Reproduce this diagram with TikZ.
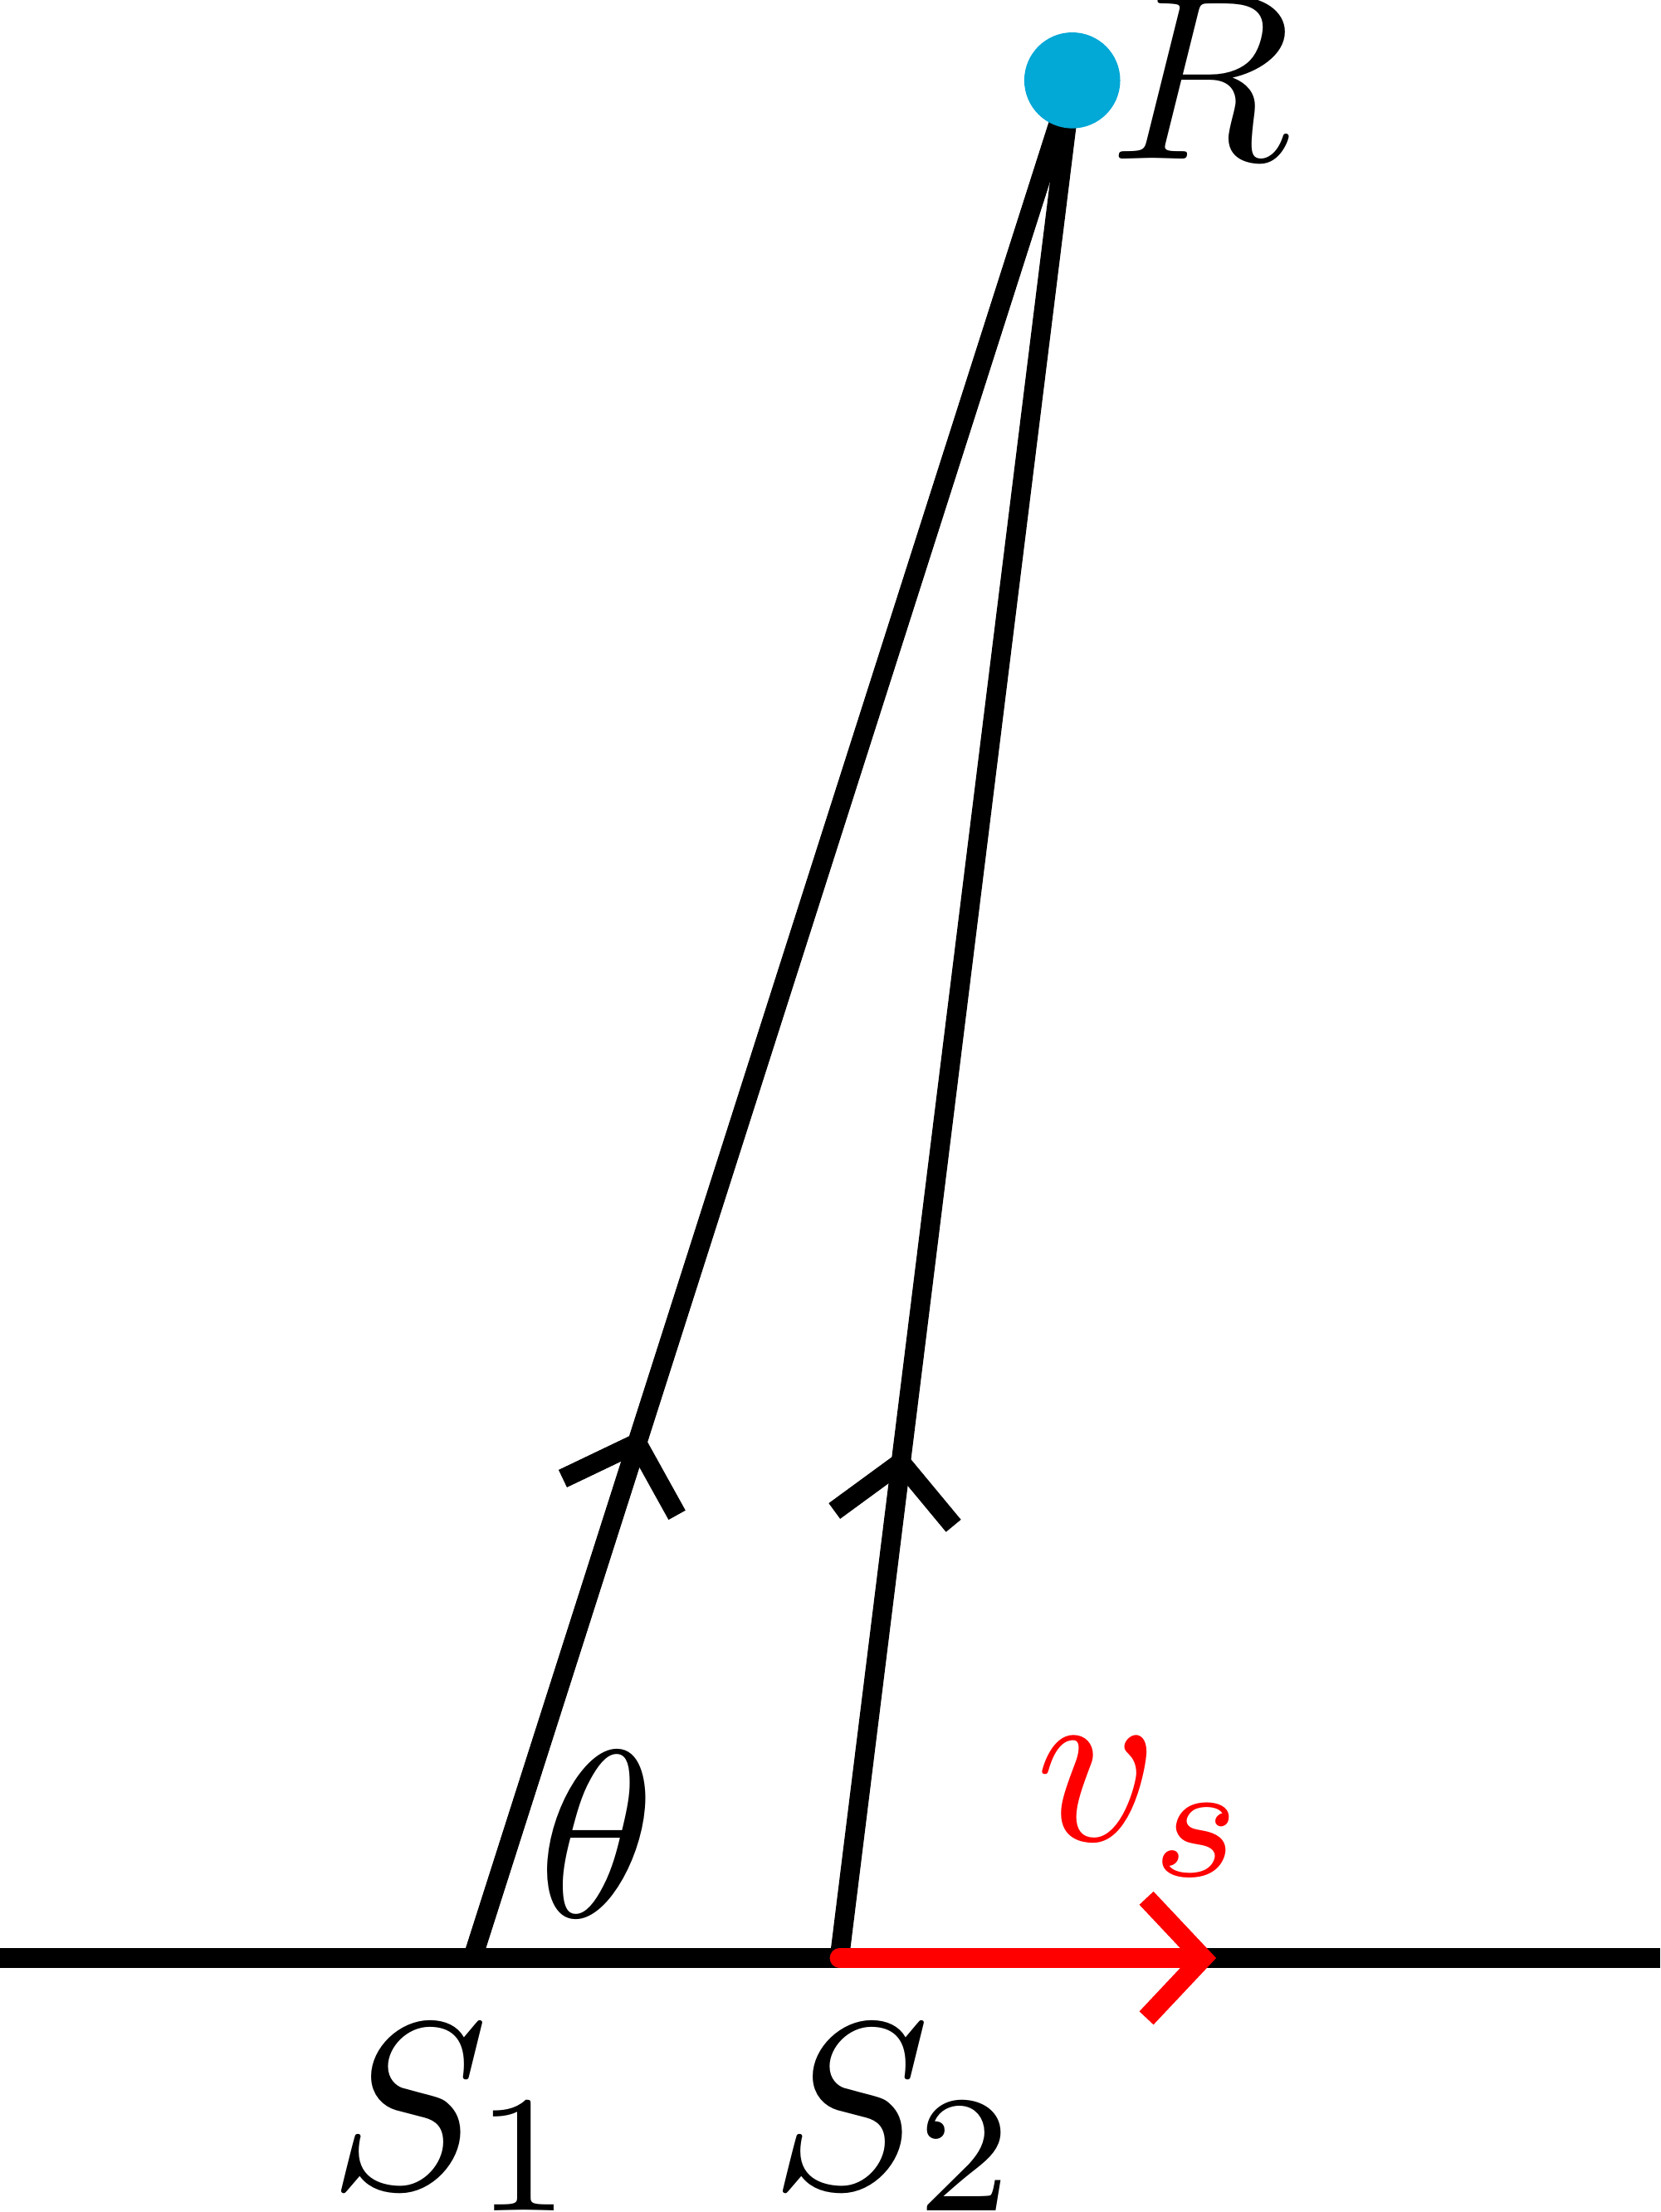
\documentclass[tikz,border=0pt]{standalone}
\usetikzlibrary{arrows.meta,decorations.markings}
\definecolor{dotcyan}{RGB}{2,168,214}
\tikzset{
 ray/.style={line width=0.137cm},
 barb/.tip={Straight Barb[length=0.4cm,width=0.85cm]},
 lbl/.style={scale=4.8,inner sep=0pt}
}
\begin{document}
\begin{tikzpicture}
\useasboundingbox (0,0) rectangle (11.77,15.68);
\coordinate (L) at (0,1.80);
\coordinate (E) at (11.77,1.80);
\coordinate (S1) at (3.35,1.80);
\coordinate (S2) at (5.95,1.80);
\coordinate (V) at (8.62,1.80);
\coordinate (R) at (7.60,15.11);
% ground line and the two rays
\draw[ray] (L) -- (E);
\foreach \s/\p in {S1/0.281,S2/0.271}
 \draw[ray,postaction=decorate,decoration={markings,mark=at position \p with {\arrow{barb}}}] (\s) -- (R);
\draw[ray,red,line cap=round,-barb] (S2) -- (V);
\node[circle,fill=dotcyan,minimum size=0.68cm,inner sep=0pt] (Rdot) at (R) {};
% labels
\node[lbl] (r) at (8.51,15.13) {$R$};
\node[lbl] (th) at (4.23,2.68) {$\theta$};
\node[lbl,anchor=base,red] (vs) at (8.11,2.63) {$v_s$};
\node[lbl,anchor=base] (s1) at (3.23,0.17) {$S_{\smash{\raisebox{0.55pt}{$\scriptstyle1$}}}$};
\node[lbl,anchor=base] (s2) at (6.36,0.17) {$S_{\smash{\raisebox{0.55pt}{$\scriptstyle2$}}}$};
\end{tikzpicture}
\end{document}
